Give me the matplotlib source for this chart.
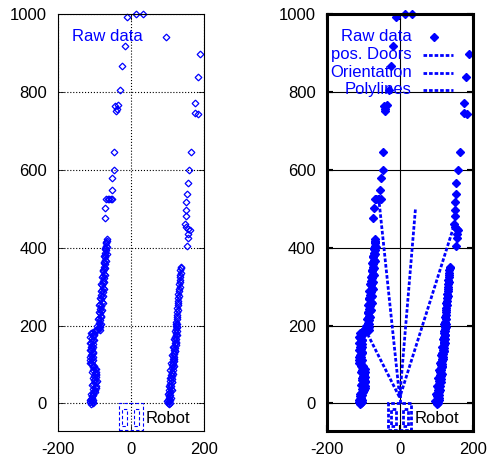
import matplotlib
matplotlib.use("Agg")
import matplotlib.pyplot as plt
from matplotlib.patches import Rectangle

plt.rcParams['font.family'] = ['Liberation Sans', 'DejaVu Sans']
plt.rcParams['font.size'] = 12
plt.rcParams['axes.unicode_minus'] = False

BLUE = '#0000ff'

# laser scan points (x, y)
wall_left_x = [-109, -105, -111, -107, -104, -110, -106, -108, -104, -109,
               -105, -101, -98, -104, -100, -96, -103, -99, -96, -102,
               -98, -95, -101, -97, -100, -96, -103, -99, -104, -101,
               -107, -110, -106, -111, -108, -105, -110, -107, -104, -109,
               -106, -110, -107, -104, -109, -106, -103, -108, -105, -102,
               -107, -104, -100, -96, -92, -88, -85,
               -89, -85, -86, -88, -84, -87, -83, -86, -82, -85,
               -81, -84, -80, -83, -79, -82, -78, -80, -77, -79,
               -76, -78, -75, -76, -74, -76, -73, -74, -72, -73,
               -71, -72, -70, -71, -69, -70, -68, -69, -67, -67,
               -104, -111, -106, -100, -95, -106, -94, -104, -97, -107,
               -95, -105, -112, -103, -112, -103, -111, -103, -112, -102,
               -111, -101, -110, -100,
               -92, -83, -90, -81, -88, -79, -87, -77, -85, -76,
               -83, -74, -81, -73, -79, -71, -77, -70, -75, -69,
               -73, -67, -71, -66, -69]
wall_left_y = [-2, 1, 4, 6, 9, 12, 15, 18, 21, 24,
               28, 31, 35, 38, 42, 45, 49, 52, 56, 60,
               63, 67, 71, 74, 78, 82, 85, 89, 93, 96,
               100, 104, 108, 112, 116, 120, 124, 128, 132, 136,
               140, 144, 148, 152, 156, 160, 164, 168, 172, 176,
               180, 184, 186, 188, 189, 190, 188,
               195, 195, 201, 207, 213, 219, 225, 231, 237, 243,
               249, 255, 261, 267, 273, 279, 285, 291, 297, 303,
               309, 315, 321, 327, 333, 339, 345, 351, 357, 363,
               369, 375, 381, 387, 393, 399, 405, 411, 417, 422,
               3, 10, 20, 30, 40, 47, 58, 65, 76, 80,
               88, 95, 104, 112, 120, 130, 138, 146, 154, 162,
               170, 178, 182, 186,
               200, 205, 216, 222, 234, 240, 252, 258, 270, 276,
               288, 294, 306, 312, 324, 330, 342, 348, 360, 366,
               378, 384, 396, 402, 414]

wall_right_x = [103, 101, 106, 104, 102, 107, 105, 103, 107, 104,
                108, 105, 109, 106, 110, 107, 111, 108, 112, 109,
                113, 110, 113, 111, 114, 112, 115, 113, 116, 114,
                117, 115, 118, 116, 119, 117, 120, 118, 121, 119,
                122, 120, 122, 121, 123, 121, 124, 122, 125, 123,
                125, 124, 126, 124, 127, 125, 127, 126, 128, 127,
                129, 128, 130, 129, 131, 130, 132, 131, 133, 132,
                134, 133, 135, 134, 136, 135, 138, 137,
                98, 109, 100, 111, 103, 113, 106, 115, 108, 117,
                110, 119, 113, 121, 115, 123, 118, 125, 120, 127, 122]
wall_right_y = [-2, 2, 2, 6, 10, 10, 14, 18, 22, 26,
                30, 34, 38, 42, 46, 50, 54, 58, 62, 66,
                70, 74, 78, 82, 86, 90, 94, 98, 102, 106,
                110, 114, 118, 122, 126, 130, 134, 138, 142, 146,
                150, 154, 158, 162, 166, 170, 175, 180, 185, 190,
                195, 200, 205, 210, 216, 222, 228, 234, 240, 246,
                252, 258, 264, 270, 276, 282, 288, 294, 300, 306,
                312, 318, 324, 330, 336, 342, 347, 351,
                5, 15, 25, 35, 45, 55, 65, 75, 85, 95,
                105, 115, 125, 135, 145, 155, 165, 175, 185, 195, 205]

far_x = [-10, 15, 34, -17, -24, -29, -35, -43, -39, -41,
         -46, -46, -51, -53, -68, -64, -60, -56, -52, -70, -72,
         148, 151, 157, 161, 157, 157, 153, 151, 151, 152,
         154, 155, 160, 165, 176, 176, 184, 183, 189]
far_y = [992, 1000, 1000, 917, 866, 806, 767, 765, 757, 752,
         645, 600, 578, 549, 524, 524, 525, 524, 525, 501, 476,
         462, 454, 449, 445, 436, 426, 404, 481, 497, 518,
         539, 565, 600, 645, 772, 746, 744, 837, 897]

raw_x = wall_left_x + wall_right_x + far_x
raw_y = wall_left_y + wall_right_y + far_y

# detected features, drawn as segments from the robot
doors_x = [[-56, 0], [43, 0]]
doors_y = [[514, 15], [498, 15]]
orient_x = [[0, 0]]
orient_y = [[0, 35]]
poly_x = [[148, 0], [-88, 0]]
poly_y = [[454, 15], [178, 15]]

legend_labels = ['Raw data', 'pos. Doors', 'Orientation', 'Polylines']


def setup(ax, grid_ls, spine_w):
    ax.set_xlim(-200, 200)
    ax.set_ylim(-70, 1000)
    ax.set_xticks([-200, 0, 200])
    ax.set_yticks([0, 200, 400, 600, 800, 1000])
    ax.tick_params(direction='in', top=True, right=True, length=4,
                   width=spine_w * 0.7, pad=8, labelsize=12)
    ax.grid(True, color='black', linestyle=grid_ls, linewidth=0.8)
    ax.set_axisbelow(True)
    for sp in ax.spines.values():
        sp.set_linewidth(spine_w)


def robot(ax, lw, dash):
    ax.add_patch(Rectangle((-32, -68), 64, 68, fill=False, ec=BLUE,
                           lw=lw, ls=dash, clip_on=False))
    ax.add_patch(Rectangle((-24, -58), 14, 44, fill=False, ec=BLUE,
                           lw=lw, ls=dash))
    ax.add_patch(Rectangle((8, -58), 14, 44, fill=False, ec=BLUE,
                           lw=lw, ls=dash))
    ax.text(40, -38, 'Robot', fontsize=12, va='center', ha='left')


fig = plt.figure(figsize=(4.87, 4.59), dpi=100)
ax1 = fig.add_axes([58 / 487, 28.3 / 459, 146 / 487, 416.7 / 459])
ax2 = fig.add_axes([326.7 / 487, 28.3 / 459, 146 / 487, 416.7 / 459])

# left: raw scan only
setup(ax1, ':', 0.8)
ax1.plot(raw_x, raw_y, 'D', ms=3.4, mfc='none', mec=BLUE, mew=0.9,
         clip_on=False)
robot(ax1, 0.8, (0, (3, 2)))
ax1.text(0.582, 0.945, legend_labels[0], transform=ax1.transAxes,
         color=BLUE, ha='right', va='center')
ax1.plot([0.738], [0.945], 'D', ms=3.4, mfc='none', mec=BLUE, mew=0.9,
         transform=ax1.transAxes)

# right: scan with extracted features
setup(ax2, '-', 2.2)
ax2.plot(raw_x, raw_y, 'D', ms=4.5, color=BLUE, mec=BLUE, clip_on=False)
dash = (0, (1.3, 0.7))
for xs, ys in zip(doors_x + orient_x + poly_x, doors_y + orient_y + poly_y):
    ax2.plot(xs, ys, color=BLUE, lw=2, ls=dash)
robot(ax2, 2, dash)

rows = [0.945, 0.902, 0.859, 0.818]
for lab, yy in zip(legend_labels, rows):
    ax2.text(0.582, yy, lab, transform=ax2.transAxes, color=BLUE,
             ha='right', va='center')
ax2.plot([0.737], [rows[0]], 'D', ms=4.5, color=BLUE,
         transform=ax2.transAxes)
for yy in rows[1:]:
    ax2.plot([0.662, 0.867], [yy, yy], color=BLUE, lw=2, ls=dash,
             transform=ax2.transAxes)

fig.savefig('out.png', dpi=100)
